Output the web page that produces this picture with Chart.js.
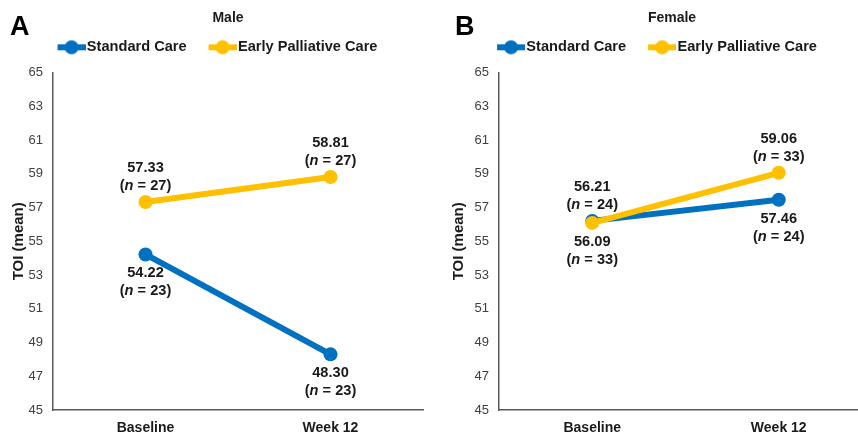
<!DOCTYPE html>
<html><head><meta charset="utf-8">
<script src="https://cdn.jsdelivr.net/npm/chart.js@4"></script>
<style>
html,body{margin:0;padding:0;background:#fff;overflow:hidden;width:858px;height:437px;position:relative;}
#a{position:absolute;left:0;top:0;width:430px;height:437px;}
#b{position:absolute;left:430px;top:0;width:450px;height:437px;}
</style></head><body>
<div id="a"><canvas id="ca"></canvas></div>
<div id="b"><canvas id="cb"></canvas></div>
<script>
const categories = ['Baseline', 'Week 12'];
const seriesNames = ['Standard Care', 'Early Palliative Care'];
const maleStandard = [54.22, 48.30];
const maleEarly = [57.33, 58.81];
const maleStandardN = [23, 23];
const maleEarlyN = [27, 27];
const femaleStandard = [56.21, 57.46];
const femaleEarly = [56.09, 59.06];
const femaleStandardN = [24, 24];
const femaleEarlyN = [33, 33];
const yTickLabels = [45, 47, 49, 51, 53, 55, 57, 59, 61, 63, 65];
const yAxisTitle = 'TOI (mean)';

const BLUE = '#0070C0', GOLD = '#FFC000';
const FONT = '"Liberation Sans", Arial, Helvetica, sans-serif';
Chart.defaults.font.family = FONT;

function markerImage(color) {
  const c = document.createElement('canvas');
  c.width = 46; c.height = 16;
  const g = c.getContext('2d');
  g.strokeStyle = color; g.lineWidth = 6;
  g.beginPath(); g.moveTo(18, 8); g.lineTo(46, 8); g.stroke();
  g.fillStyle = color;
  g.beginPath(); g.arc(32, 8, 7, 0, Math.PI * 2); g.fill();
  return c;
}
const markers = [markerImage(BLUE), markerImage(GOLD)];

const legendGap = {
  id: 'legendGap',
  beforeLayout(chart, args, o) {
    const lg = chart.legend;
    if (lg && !lg.__gap) {
      const fit = lg.fit.bind(lg);
      lg.fit = function () { fit(); this.height += o.extra; };
      lg.__gap = true;
    }
  }
};

const panelText = {
  id: 'panelText',
  afterDraw(chart, args, o) {
    const ctx = chart.ctx;
    ctx.save();
    ctx.fillStyle = '#000';
    ctx.textBaseline = 'alphabetic';
    ctx.textAlign = 'left';
    ctx.font = 'bold 27px ' + FONT;
    ctx.fillText(o.letter, o.letterX, 35);
    ctx.font = 'bold 14px ' + FONT;
    ctx.textAlign = 'center';
    ctx.fillStyle = '#1a1a1a';
    ctx.fillText(o.title, o.titleX, 22);
    ctx.restore();
  }
};

const valueLabels = {
  id: 'valueLabels',
  afterDatasetsDraw(chart, args, o) {
    const ctx = chart.ctx;
    const F = 'bold 14.6px ' + FONT, FI = 'italic bold 14.6px ' + FONT;
    ctx.save();
    ctx.fillStyle = '#1a1a1a';
    ctx.textBaseline = 'middle';
    chart.data.datasets.forEach((ds, di) => {
      const meta = chart.getDatasetMeta(di);
      meta.data.forEach((pt, i) => {
        const place = o.place[di][i];
        const y1 = place === 'above' ? pt.y - 34 : pt.y + 19;
        const y2 = y1 + 18;
        ctx.font = F;
        ctx.textAlign = 'center';
        ctx.fillText(ds.data[i].toFixed(2), pt.x, y1);
        const p1 = '(', p2 = 'n', p3 = ' = ' + ds.nValues[i] + ')';
        const w1 = ctx.measureText(p1).width, w3 = ctx.measureText(p3).width;
        ctx.font = FI;
        const w2 = ctx.measureText(p2).width;
        let x = pt.x - (w1 + w2 + w3) / 2;
        ctx.textAlign = 'left';
        ctx.font = F;
        ctx.fillText(p1, x, y2); x += w1;
        ctx.font = FI;
        ctx.fillText(p2, x, y2); x += w2;
        ctx.font = F;
        ctx.fillText(p3, x, y2);
      });
    });
    ctx.restore();
  }
};

function makeChart(id, std, early, stdN, earlyN, cfg) {
  return new Chart(document.getElementById(id), {
    type: 'line',
    data: {
      labels: categories,
      datasets: [
        { label: seriesNames[0], data: std, nValues: stdN, borderColor: BLUE, backgroundColor: BLUE,
          pointBackgroundColor: BLUE, borderWidth: 6, pointRadius: 7, pointBorderWidth: 0, order: 1 },
        { label: seriesNames[1], data: early, nValues: earlyN, borderColor: GOLD, backgroundColor: GOLD,
          pointBackgroundColor: GOLD, borderWidth: 6, pointRadius: 7, pointBorderWidth: 0, order: 0 }
      ]
    },
    options: {
      responsive: true,
      maintainAspectRatio: false,
      animation: false,
      layout: { padding: { top: 30, left: 0, right: cfg.padRight, bottom: 0 } },
      plugins: {
        tooltip: { enabled: false },
        legend: {
          display: true,
          position: 'top',
          labels: {
            usePointStyle: true,
            pointStyleWidth: 34,
            padding: 10,
            color: '#1a1a1a',
            font: { size: 14.6, weight: 'bold' },
            generateLabels(chart) {
              return chart.data.datasets.map((ds, i) => ({
                text: ds.label, pointStyle: markers[i], fillStyle: ds.borderColor,
                strokeStyle: ds.borderColor, lineWidth: 0, hidden: false, datasetIndex: i, fontColor: '#1a1a1a'
              }));
            }
          }
        },
        legendGap: { extra: 8 },
        panelText: { letter: cfg.letter, letterX: cfg.letterX, title: cfg.title, titleX: cfg.titleX },
        valueLabels: { place: cfg.place }
      },
      scales: {
        x: {
          offset: true,
          grid: { display: false, drawTicks: false },
          border: { display: true, color: '#595959', width: 1.5 },
          ticks: { color: '#1a1a1a', font: { size: 14, weight: 'bold' }, padding: 10 },
          afterFit(s) { s.height = 27; }
        },
        y: {
          min: 45, max: 65,
          grid: { display: false, drawTicks: false },
          border: { display: true, color: '#595959', width: 1.5 },
          ticks: { color: '#404040', font: { size: 13 }, padding: 10 },
          afterBuildTicks(s) { s.ticks = yTickLabels.map(v => ({ value: v })); },
          title: { display: true, text: yAxisTitle, color: '#1a1a1a', font: { size: 15, weight: 'bold' },
                   padding: { top: cfg.titlePad, bottom: 0 } },
          afterFit(s) { s.width = cfg.axisLeft; }
        }
      }
    },
    plugins: [legendGap, panelText, valueLabels]
  });
}

makeChart('ca', maleStandard, maleEarly, maleStandardN, maleEarlyN, {
  padRight: 7, axisLeft: 53, titlePad: 10, letter: 'A', letterX: 10, title: 'Male', titleX: 228,
  place: [['below', 'below'], ['above', 'above']]
});
makeChart('cb', femaleStandard, femaleEarly, femaleStandardN, femaleEarlyN, {
  padRight: 8, axisLeft: 69, titlePad: 20, letter: 'B', letterX: 25, title: 'Female', titleX: 242,
  place: [['above', 'below'], ['below', 'above']]
});
</script>
</body></html>
